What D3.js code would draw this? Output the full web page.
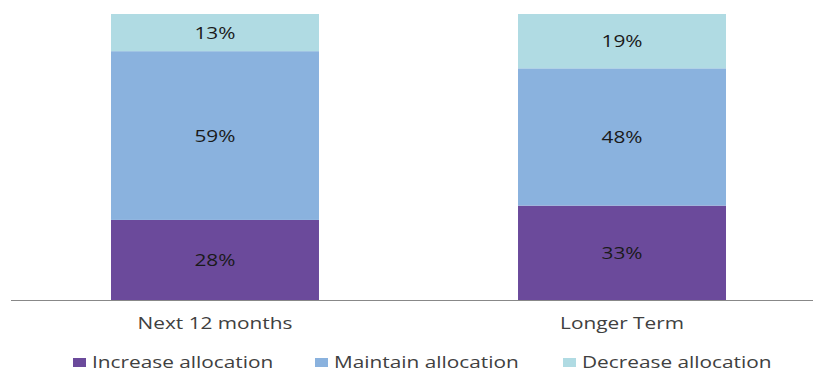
<!DOCTYPE html>
<html><head><meta charset="utf-8">
<script src="https://cdn.jsdelivr.net/npm/d3@7"></script>
<style>body{margin:0;background:#fff}svg{display:block}text{font-family:"Open Sans",sans-serif}</style>
</head><body><svg id="c" width="813" height="372"></svg>
<script>
const categories = ["Next 12 months", "Longer Term"];
const seriesNames = ["Increase allocation", "Maintain allocation", "Decrease allocation"];
const increase = [28, 33];
const maintain = [59, 48];
const decrease = [13, 19];
const colors = ["#6B4A9B", "#8AB2DE", "#B0DBE3"];

const svg = d3.select("#c");
const W = 813;
const x = d3.scaleBand().domain(categories).range([11, 826]).paddingInner(0.489).paddingOuter(0.2457);
const y = d3.scaleLinear().domain([0, 100]).range([300, 14]);

const rows = categories.map((c, i) => ({cat: c, s0: increase[i], s1: maintain[i], s2: decrease[i]}));
const stack = d3.stack().keys(["s0", "s1", "s2"])(rows);

function widen(sel, stretch) {
  sel.each(function() {
    const L = this.getComputedTextLength();
    d3.select(this).attr("textLength", L * stretch).attr("lengthAdjust", "spacingAndGlyphs");
  });
}

stack.forEach((layer, li) => {
  const g = svg.append("g");
  g.selectAll("rect").data(layer).enter().append("rect")
    .attr("x", d => x(d.data.cat))
    .attr("width", x.bandwidth())
    .attr("y", d => y(d[1]))
    .attr("height", d => y(d[0]) - y(d[1]))
    .attr("fill", colors[li]);
  g.selectAll("text").data(layer).enter().append("text")
    .attr("x", d => x(d.data.cat) + x.bandwidth()/2)
    .attr("y", d => (y(d[0]) + y(d[1]))/2 + 6)
    .attr("text-anchor", "middle")
    .attr("font-size", 16)
    .attr("fill", "#1a1a1a")
    .text(d => (d[1] - d[0]) + "%")
    .call(widen, 1.3);
});

const xAxis = d3.axisBottom(x).tickSize(0).tickPadding(0);
const ax = svg.append("g").attr("transform", "translate(0,300)").call(xAxis);
ax.select(".domain").attr("stroke", "#888").attr("d", `M11,0.5H${W}`);
ax.selectAll(".tick text")
  .attr("font-size", 16).attr("fill", "#404040").attr("font-family", "Open Sans")
  .attr("y", 29).attr("dy", 0)
  .call(widen, 1.3);

const legendX = [73, 315, 563];
const lg = svg.append("g");
seriesNames.forEach((n, i) => {
  lg.append("rect").attr("x", legendX[i]).attr("y", 358).attr("width", 13).attr("height", 9).attr("fill", colors[i]);
  lg.append("text").attr("x", legendX[i] + 19).attr("y", 367.5)
    .attr("font-size", 16).attr("fill", "#404040").text(n).call(widen, 1.3);
});
</script></body></html>
